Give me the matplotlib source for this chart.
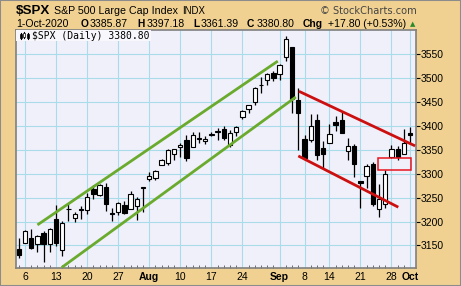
import matplotlib
matplotlib.use("Agg")
import matplotlib.pyplot as plt
from matplotlib.patches import Rectangle

# daily OHLC, 2-Jul-2020 .. 1-Oct-2020
opens = [3143.6, 3155.3, 3166.4, 3153.1, 3176.2, 3152.5,
         3205.1, 3141.1, 3226.0, 3208.4, 3224.2,
         3224.3, 3268.5, 3254.9, 3271.6, 3218.6,
         3219.8, 3234.3, 3227.2, 3231.8, 3270.5,
         3288.3, 3289.9, 3317.4, 3323.2, 3340.1,
         3356.0, 3370.3, 3355.5, 3373.0, 3368.7,
         3380.9, 3387.0, 3392.5, 3360.5, 3386.0,
         3418.1, 3436.0, 3450.0, 3485.1, 3494.7,
         3509.7, 3507.4, 3543.8, 3564.7, 3453.6,
         3371.9, 3369.8, 3412.6, 3352.7,
         3363.6, 3407.7, 3411.2, 3346.9, 3357.4,
         3285.6, 3295.8, 3320.1, 3226.1, 3236.7,
         3333.9, 3350.9, 3341.2, 3385.9]
highs = [3165.8, 3182.6, 3184.2, 3171.8, 3179.8, 3186.8,
         3235.3, 3201.0, 3238.3, 3220.4, 3233.5,
         3258.6, 3277.3, 3279.3, 3280.0, 3227.3,
         3241.4, 3243.7, 3264.7, 3250.9, 3272.2,
         3302.7, 3306.8, 3330.8, 3351.0, 3352.5,
         3363.3, 3381.0, 3387.9, 3387.2, 3378.5,
         3387.6, 3395.1, 3399.5, 3390.8, 3400.0,
         3432.1, 3444.2, 3481.1, 3501.4, 3509.2,
         3514.8, 3528.0, 3588.1, 3564.9, 3479.2,
         3380.0, 3424.8, 3425.6, 3369.0,
         3402.9, 3419.5, 3428.9, 3375.2, 3362.3,
         3285.6, 3320.3, 3323.4, 3278.7, 3306.9,
         3360.7, 3357.9, 3393.6, 3397.2]
lows = [3124.5, 3155.3, 3142.9, 3136.5, 3115.7, 3136.2,
        3149.4, 3127.7, 3200.8, 3198.6, 3205.7,
        3215.2, 3247.8, 3253.1, 3222.7, 3200.1,
        3214.3, 3216.2, 3227.2, 3204.1, 3220.3,
        3284.5, 3286.4, 3317.4, 3318.1, 3328.7,
        3335.4, 3326.4, 3355.5, 3363.4, 3361.6,
        3379.2, 3370.2, 3369.7, 3354.7, 3379.3,
        3413.1, 3425.8, 3444.2, 3468.4, 3484.3,
        3493.3, 3494.6, 3535.2, 3427.4, 3349.6,
        3329.3, 3366.8, 3329.3, 3310.5,
        3363.6, 3389.3, 3384.5, 3328.8, 3292.4,
        3229.1, 3271.0, 3232.6, 3209.5, 3228.4,
        3332.9, 3327.5, 3340.5, 3361.4]
closes = [3130.0, 3179.7, 3145.3, 3169.9, 3152.1, 3185.0,
          3155.2, 3197.5, 3226.6, 3215.6, 3224.7,
          3251.8, 3257.3, 3276.0, 3235.7, 3215.6,
          3239.4, 3218.4, 3258.4, 3246.2, 3271.1,
          3294.6, 3306.5, 3327.8, 3349.2, 3351.3,
          3360.5, 3333.7, 3380.4, 3373.4, 3372.9,
          3382.0, 3389.8, 3374.9, 3385.5, 3397.2,
          3431.3, 3443.6, 3478.7, 3484.6, 3508.0,
          3500.3, 3526.7, 3580.8, 3455.1, 3427.0,
          3331.8, 3399.0, 3339.2, 3341.0,
          3383.5, 3401.2, 3385.5, 3357.0, 3319.5,
          3281.1, 3315.6, 3236.9, 3246.6, 3298.5,
          3351.6, 3335.5, 3363.0, 3380.8]

tick_pos = [1, 6, 11, 16, 21, 26, 31, 36, 42, 46, 50, 55, 60, 63]
tick_labels = ['6', '13', '20', '27', 'Aug', '10', '17', '24', 'Sep', '8', '14', '21', '28', 'Oct']
month_labels = ['Aug', 'Sep', 'Oct']
y_ticks = [3150, 3200, 3250, 3300, 3350, 3400, 3450, 3500, 3550]

# trendlines (day index, price)
up_hi_x, up_hi_y = [3.0, 41.7], [3193, 3535]
up_lo_x, up_lo_y = [6.9, 44.6], [3104, 3460]
dn_hi_x, dn_hi_y = [45.1, 63.8], [3472, 3358]
dn_lo_x, dn_lo_y = [45.0, 61.1], [3337, 3230]
gap_x, gap_y = [57.9, 63.1], [3306.9, 3332.9]

TAN = '#f0d191'
W, H = 461, 286

fig = plt.figure(figsize=(W / 100, H / 100), dpi=100, facecolor=TAN)
fig.patches.append(Rectangle((0, 0), 1, 1, transform=fig.transFigure, fill=False,
                             edgecolor='#8c8c8c', lw=1.5))
ax = fig.add_axes([16 / W, 1 - 268 / H, 400 / W, 238.5 / H])
ax.set_facecolor('#f0f0fa')

n = len(closes)
xs = list(range(n))
ax.vlines(xs, lows, highs, color='black', lw=0.9, zorder=3)
for i in xs:
    o, c = opens[i], closes[i]
    bottom = min(o, c)
    h = max(abs(c - o), 1.2)
    fc = 'white' if c >= o else 'black'
    ax.bar(i, h, bottom=bottom, width=0.7, facecolor=fc, edgecolor='black',
           lw=0.8, zorder=4)

green = '#6aaa2c'
red = '#cc1010'
ax.plot(up_hi_x, up_hi_y, color=green, lw=2, zorder=5, solid_capstyle='butt')
ax.plot(up_lo_x, up_lo_y, color=green, lw=2, zorder=5, solid_capstyle='butt')
ax.plot(dn_hi_x, dn_hi_y, color=red, lw=2, zorder=5, solid_capstyle='butt')
ax.plot(dn_lo_x, dn_lo_y, color=red, lw=2, zorder=5, solid_capstyle='butt')
ax.add_patch(Rectangle((gap_x[0], gap_y[0]), gap_x[1] - gap_x[0], gap_y[1] - gap_y[0],
                       fill=False, edgecolor='#e8141e', lw=1.1, zorder=5))

ax.set_xlim(-0.45, 63.95)
ax.set_ylim(3103, 3601)

ax.set_xticks(tick_pos)
ax.set_xticklabels(tick_labels)
for lab in ax.get_xticklabels():
    lab.set_fontfamily('Liberation Sans')
    lab.set_fontsize(7.5)
    if lab.get_text() in month_labels:
        lab.set_fontweight('bold')
ax.set_xticks(xs, minor=True)
ax.tick_params(axis='x', which='major', length=0, pad=3)
ax.tick_params(axis='x', which='minor', direction='in', length=2, color='#555555', width=0.6)

ax.yaxis.tick_right()
ax.set_yticks(y_ticks)
ax.tick_params(axis='y', direction='out', length=3, width=0.8, pad=0.5,
               labelsize=7.5, colors='black')
for lab in ax.get_yticklabels():
    lab.set_fontfamily('Liberation Sans')

ax.grid(True, color='#a9dce9', lw=0.8, zorder=0)
ax.set_axisbelow(True)
for s in ax.spines.values():
    s.set_color('#808080')
    s.set_linewidth(1.2)

# legend box inside plot, with a tiny candle icon
ax.add_patch(Rectangle((16 / W, 1 - 40.5 / H), 135 / W, 11 / H, transform=fig.transFigure,
                       facecolor='#f8f8fc', edgecolor='none', zorder=6))
for px, top, bot, filled in [(20.5, 33, 39, True), (24, 32, 38, False), (27.5, 33, 39, True)]:
    ax.plot([px / W, px / W], [1 - top / H, 1 - bot / H], transform=fig.transFigure,
            color='black', lw=0.8, zorder=7)
    ax.add_patch(Rectangle(((px - 1) / W, 1 - (bot - 1.5) / H), 2 / W, 3.5 / H,
                           transform=fig.transFigure, facecolor='black' if filled else 'white',
                           edgecolor='black', lw=0.5, zorder=8))
fig.text(32 / W, 1 - 39 / H, '$SPX (Daily) 3380.80', ha='left', va='baseline',
         fontsize=7, family='DejaVu Sans Mono', zorder=9)

# header
def put(x, y, s, family='Liberation Sans', **kw):
    fig.text(x / W, 1 - y / H, s, va='baseline', family=family, **kw)

put(16, 14, '$SPX', fontsize=9.6, fontweight='bold')
put(54, 14, 'S&P 500 Large Cap Index', fontsize=7.7)
put(182, 14, 'INDX', fontsize=6.9)
put(417, 14, '\u00a9 StockCharts.com', fontsize=7.1, color='#444444', family='DejaVu Sans',
    ha='right')
put(16, 27, '1-Oct-2020', fontsize=7.6)
for x, s in [(81, 'O'), (137, 'H'), (193, 'L'), (247, 'C'), (303, 'Chg')]:
    put(x, 27, s, fontsize=7.4, fontweight='bold')
for x, s in [(90, '3385.87'), (147, '3397.18'), (201, '3361.39'), (257, '3380.80'),
             (328, '+17.80 (+0.53%)')]:
    put(x, 27, s, fontsize=7.6)
fig.text(413 / W, 1 - 26 / H, '\u25b2', fontsize=5, color='#2a8a2a', ha='center', va='baseline')

fig.savefig('out.png', dpi=100, facecolor=TAN)
